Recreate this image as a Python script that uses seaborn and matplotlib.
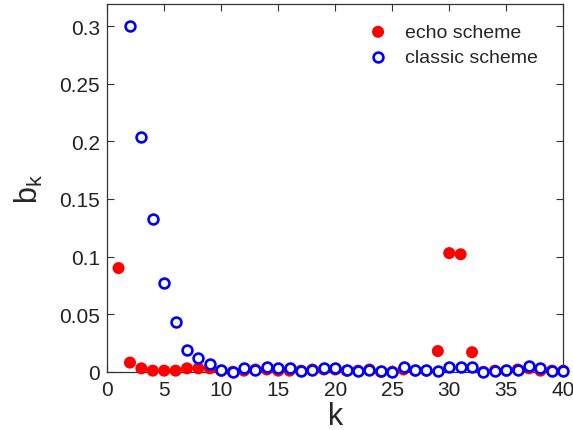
import numpy as np
import pandas as pd
import seaborn as sns
import matplotlib.pyplot as plt
from matplotlib.ticker import FormatStrFormatter, MultipleLocator

k = np.arange(1, 41)
echo = [0.090, 0.008, 0.003, 0.001, 0.001, 0.001, 0.003, 0.003, 0.003, 0.001,
        0.000, 0.001, 0.002, 0.002, 0.001, 0.001, 0.001, 0.002, 0.002, 0.002,
        0.001, 0.001, 0.002, 0.000, 0.000, 0.002, 0.001, 0.001, 0.018, 0.103,
        0.102, 0.017, 0.000, 0.001, 0.001, 0.002, 0.003, 0.001, 0.001, 0.001]
classic = [np.nan, 0.300, 0.204, 0.133, 0.077, 0.043, 0.019, 0.012, 0.007, 0.002,
           0.000, 0.003, 0.002, 0.004, 0.003, 0.003, 0.001, 0.002, 0.003, 0.003,
           0.002, 0.001, 0.002, 0.001, 0.000, 0.004, 0.002, 0.002, 0.001, 0.004,
           0.004, 0.004, 0.000, 0.001, 0.002, 0.002, 0.005, 0.003, 0.001, 0.001]

df = pd.DataFrame({'k': k, 'echo': echo, 'classic': classic})

sns.set_style('ticks')
plt.rcParams['font.family'] = ['Liberation Sans', 'DejaVu Sans']
plt.rcParams['xtick.direction'] = 'in'
plt.rcParams['ytick.direction'] = 'in'

fig = plt.figure(figsize=(5.73, 4.31), dpi=100)
ax = fig.add_axes([0.187, 0.135, 0.796, 0.853])

sns.scatterplot(x='k', y='echo', data=df, ax=ax, color='red', s=75,
                edgecolor='none', label='echo scheme', clip_on=False, zorder=3)
sns.scatterplot(x='k', y='classic', data=df, ax=ax, facecolor='white',
                edgecolor='blue', linewidth=1.9, s=50, label='classic scheme',
                clip_on=False, zorder=4)

ax.set_xlim(0, 40)
ax.set_ylim(0, 0.319)
ax.xaxis.set_major_locator(MultipleLocator(5))
ax.yaxis.set_major_locator(MultipleLocator(0.05))
ax.yaxis.set_major_formatter(FormatStrFormatter('%g'))
ax.tick_params(top=True, right=True, labelsize=15, length=5, width=0.8,
               color='#333333', labelcolor='#222222')
ax.tick_params(axis='x', pad=6)
ax.tick_params(axis='y', pad=5)
for sp in ax.spines.values():
    sp.set_color('#333333')
    sp.set_linewidth(0.9)

ax.set_xlabel('k', fontsize=22, labelpad=1)
ax.set_ylabel(r'b$_\mathregular{k}$', fontsize=22, labelpad=10)

ax.legend(loc='upper right', bbox_to_anchor=(0.945, 0.948), frameon=False,
          fontsize=14, handletextpad=0.4, borderaxespad=0, borderpad=0,
          labelspacing=0.4)

fig.savefig('out.png', dpi=100)
